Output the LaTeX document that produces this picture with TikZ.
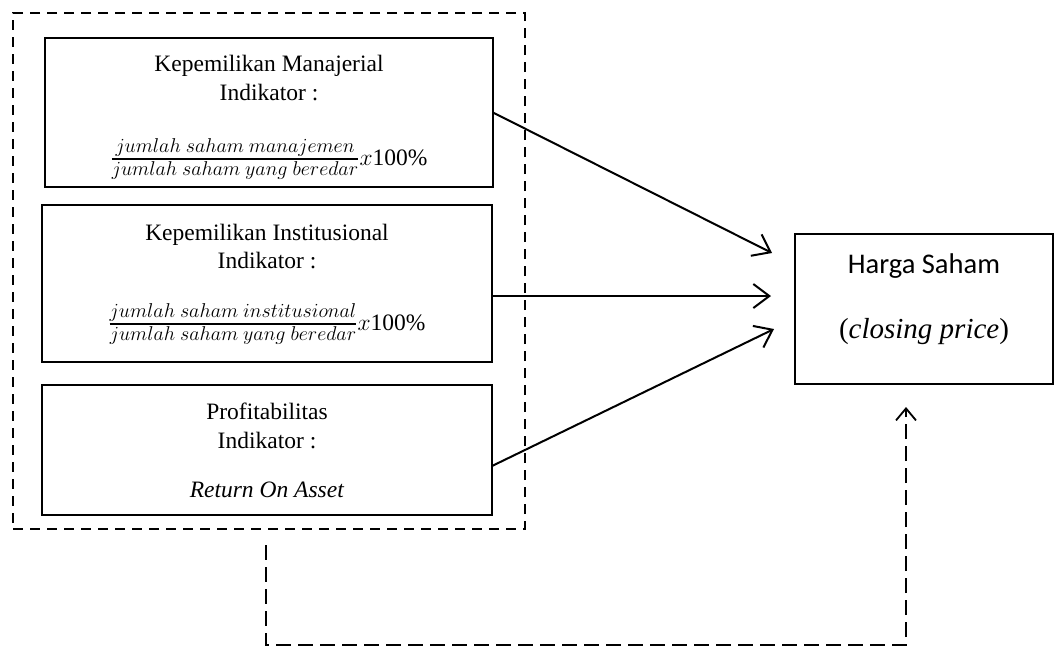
\RequirePackage{fix-cm}
\documentclass[tikz,border=0pt]{standalone}
\usepackage{amsmath}
\usepackage{fontspec}
\setmainfont{Liberation Serif}
\newfontfamily\carlitofont{Carlito}
\usetikzlibrary{arrows.meta}
\newcommand\fpart[1]{\hbox{\fontsize{20}{23}\selectfont$#1$}}
\newcommand\myfrac[2]{$\genfrac{}{}{1.6pt}{1}{\fpart{#1}}{\fpart{#2}}x$100\%}
\begin{document}
\begin{tikzpicture}[x=1pt,y=-1pt,
  varbox/.style={draw, line width=1.3pt, anchor=north west, inner sep=0pt, outer sep=0pt},
  grpbox/.style={draw, line width=2.4pt, dash pattern=on 10pt off 7pt, anchor=north west, inner sep=0pt, outer sep=0pt},
  resbox/.style={draw, line width=2pt, anchor=north west, inner sep=0pt, outer sep=0pt},
  lbl/.style={anchor=base, inner sep=0pt, font=\fontsize{23.5}{28}\selectfont},
  rlbl/.style={anchor=base, inner sep=0pt, font=\fontsize{29}{34}\selectfont},
  infl/.style={line width=2pt, -{Straight Barb[length=16pt,width=24pt,line width=2pt]}},
  fbline/.style={line width=1.7pt, dash pattern=on 15pt off 7pt, -{Straight Barb[length=12pt,width=20pt,line width=1.8pt]}}
]
\useasboundingbox (0,0) rectangle (1054,649);
% group
\node[grpbox, minimum width=512pt, minimum height=516pt] (group) at (13,13) {};
% variable boxes
\node[varbox, minimum width=448pt, minimum height=149pt] (km) at (45,38) {};
\node[varbox, minimum width=450pt, minimum height=157pt] (ki) at (42,205) {};
\node[varbox, minimum width=450pt, minimum height=130pt] (pr) at (42,385) {};
\node[resbox, minimum width=258pt, minimum height=150pt] (hs) at (795,234) {};
% texts box 1
\node[lbl] (km1) at (269,71) {Kepemilikan Manajerial};
\node[lbl] (km2) at (269,100) {Indikator :};
\node[lbl] (km3) at (269,165) {\myfrac{jumlah\ saham\ manajemen}{jumlah\ saham\ yang\ beredar}};
% texts box 2
\node[lbl] (ki1) at (267,240) {Kepemilikan Institusional};
\node[lbl] (ki2) at (267,268) {Indikator :};
\node[lbl] (ki3) at (267,330) {\myfrac{jumlah\ saham\ institusional}{jumlah\ saham\ yang\ beredar}};
% texts box 3
\node[lbl] (pr1) at (267,419) {Profitabilitas};
\node[lbl] (pr2) at (267,448) {Indikator :};
\node[lbl] (pr3) at (267,497) {\textit{Return On Asset}};
% result box texts
\node[rlbl, font=\carlitofont\fontsize{28.5}{34}\selectfont] (hs1) at (924,273) {Harga Saham};
\node[rlbl] (hs2) at (924,338) {(\textit{closing price})};
% arrow ends
\coordinate (t1) at (772,253);
\coordinate (t2) at (771,296);
\coordinate (t3) at (774,329);
\draw[infl] (km.east) -- (t1);
\draw[infl] ([yshift=-12.5pt]ki.east) -- (t2);
\draw[infl] ([yshift=-16pt]pr.east) -- (t3);
% feedback
\coordinate (fbs) at (266,545);
\coordinate (fbb) at (0,645);
\coordinate (fbe) at (906,407);
\draw[fbline] (fbs) -- (fbs |- fbb) -| (fbe);
\end{tikzpicture}
\end{document}
